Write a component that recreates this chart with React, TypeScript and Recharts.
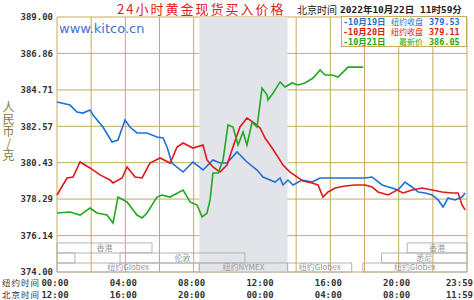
import React from 'react';
import { LineChart, Line, XAxis, YAxis, CartesianGrid, ReferenceArea } from 'recharts';

// ---- data (NY time in hours, price in 人民币/克) ----
const blueHours = [0, 0.76, 1.17, 1.52, 1.93, 2.11, 2.69, 3.22, 3.57, 3.98, 4.27, 4.68, 5.27, 5.85, 6.21, 6.44, 6.73, 7.38, 7.96, 8.55, 9.13, 9.54, 9.95, 10.54, 11.12, 11.71, 12.06, 12.47, 12.76, 13.06, 13.23, 13.52, 13.82, 14.34, 14.93, 15.4, 16.1, 17.04, 18.03, 18.44, 19.03, 19.61, 19.96, 20.37, 20.78, 21.14, 21.55, 21.96, 22.31, 22.6, 22.89, 23.3, 23.71, 23.89];
const blueValues = [384.0, 383.82, 383.41, 383.35, 383.53, 383.24, 382.53, 381.65, 381.76, 382.94, 382.53, 382.18, 382.18, 381.94, 381.88, 381.35, 380.41, 379.88, 380.47, 380.0, 380.59, 380.41, 380.41, 381.06, 380.47, 380.0, 379.59, 379.41, 379.29, 379.53, 379.12, 379.41, 379.12, 379.41, 379.29, 379.53, 379.53, 379.53, 379.53, 379.59, 379.12, 378.94, 378.82, 379.29, 379.0, 378.71, 378.65, 378.53, 378.24, 377.82, 378.35, 378.24, 378.41, 378.65];

const redHours = [0, 0.59, 0.94, 1.35, 1.93, 2.52, 3.1, 3.28, 3.81, 4.1, 4.57, 4.98, 5.44, 6.03, 6.62, 7.03, 7.38, 7.96, 8.55, 8.78, 9.13, 9.54, 9.95, 10.3, 10.71, 11.12, 11.48, 11.89, 12.18, 12.59, 12.94, 13.23, 13.64, 14.05, 14.4, 14.93, 15.28, 15.57, 15.87, 16.28, 16.86, 17.45, 18.03, 18.44, 18.79, 19.38, 19.91, 20.26, 20.78, 21.37, 21.96, 22.54, 23.13, 23.48, 23.71, 23.89];
const redValues = [378.53, 379.53, 379.59, 380.47, 380.12, 379.71, 379.41, 379.24, 379.53, 380.18, 379.59, 379.53, 380.41, 380.71, 380.41, 381.35, 381.59, 381.29, 381.47, 380.59, 380.18, 379.88, 380.29, 381.35, 382.53, 383.06, 382.82, 382.47, 381.88, 381.29, 380.76, 380.29, 379.88, 379.59, 379.35, 379.24, 379.12, 378.41, 378.71, 378.94, 379.06, 379.12, 379.12, 379.0, 378.71, 378.53, 378.82, 378.65, 378.82, 378.94, 378.82, 378.71, 378.65, 378.65, 377.94, 377.65];

const greenHours = [0, 0.76, 1.35, 1.93, 2.34, 2.93, 3.28, 3.57, 4.1, 4.68, 4.98, 5.27, 5.85, 6.15, 6.62, 7.38, 7.79, 8.2, 8.49, 8.78, 8.96, 9.13, 9.43, 9.72, 10.01, 10.3, 10.6, 10.89, 11.12, 11.42, 11.71, 12.0, 12.3, 12.35, 12.65, 13.06, 13.35, 13.76, 14.11, 14.52, 14.99, 15.4, 15.69, 16.1, 16.45, 16.74, 17.04, 17.92];
const greenValues = [377.47, 377.53, 377.35, 377.76, 377.47, 377.35, 376.88, 378.41, 378.12, 377.35, 377.18, 377.47, 378.41, 378.53, 378.41, 378.82, 378.12, 377.94, 377.24, 377.47, 378.24, 379.82, 379.82, 380.59, 382.65, 382.53, 381.47, 382.24, 381.47, 382.82, 382.53, 384.82, 384.41, 384.12, 384.53, 385.18, 384.88, 385.12, 385.0, 385.12, 385.41, 385.88, 385.59, 385.59, 385.47, 385.76, 386.05, 386.05];

const yTicks = [374.0, 376.14, 378.29, 380.43, 382.57, 384.71, 386.86, 389.0];
const xGridHours = [0, 2, 4, 6, 8, 10, 12, 14, 16, 18, 20, 22, 24];
const timeTickHours = [0, 4, 8, 12, 16, 20, 24];
const nyTimeLabels = ['00:00', '04:00', '08:00', '12:00', '16:00', '20:00', '23:59'];
const bjTimeLabels = ['12:00', '16:00', '20:00', '00:00', '04:00', '08:00', '11:59'];

const nymexStart = 8.33;
const nymexEnd = 13.5;

// trading sessions: name, start hour, end hour, row band (low, high price)
const sessionNames = ['香港', '', '伦敦', '纽约Globex', '纽约NYMEX', '纽约Globex', '纽约Globex', '悉尼', '香港'];
const sessionStarts = [0, 0, 3.69, 0, 8.33, 13.5, 17.9, 19.0, 20.5];
const sessionEnds = [5.56, 1.05, 11.0, 8.33, 13.5, 17.25, 24, 24, 24];
const sessionLows = [375.12, 374.53, 374.53, 374.0, 374.0, 374.0, 374.0, 374.53, 375.12];
const sessionHighs = [375.71, 375.12, 375.12, 374.53, 374.53, 374.53, 374.53, 375.12, 375.71];

const legendDates = ['-10月19日', '-10月20日', '-10月21日'];
const legendKinds = ['纽约收盘', '纽约收盘', '最新价'];
const legendValues = ['379.53', '379.11', '386.05'];

const BLUE = '#1f6fd8';
const RED = '#e01818';
const GREEN = '#22a822';
const GOLD = '#c9ab5c';

const toSeries = (hs: number[], vs: number[]) => hs.map((h, i) => ({ h, v: vs[i] }));
const blueData = toSeries(blueHours, blueValues);
const redData = toSeries(redHours, redValues);
const greenData = toSeries(greenHours, greenValues);

const MONO = '"DejaVu Sans Mono", "Noto Sans CJK SC", monospace';
const CJK = '"Noto Sans CJK SC", sans-serif';

const XTick = (props: any) => {
  const { x, y, payload } = props;
  const idx = timeTickHours.indexOf(payload.value);
  if (idx < 0) return null;
  const isLast = idx === timeTickHours.length - 1;
  const anchor = isLast ? 'end' : 'middle';
  const tx = isLast ? x + 6 : x - 2;
  return (
    <g>
      {idx === 0 && (
        <>
          <text x={x - 17} y={y + 14} textAnchor="end" fontSize={8.5} letterSpacing={1} fontFamily={CJK} fill="#333">纽约时间</text>
          <text x={x - 17} y={y + 26} textAnchor="end" fontSize={8.5} letterSpacing={1} fontFamily={CJK} fill="#333">北京时间</text>
        </>
      )}
      <text x={tx} y={y + 14} textAnchor={anchor} fontSize={9} fontWeight="bold" fontFamily={MONO} fill="#333">{nyTimeLabels[idx]}</text>
      <text x={tx} y={y + 26} textAnchor={anchor} fontSize={9} fontWeight="bold" fontFamily={MONO} fill="#333">{bjTimeLabels[idx]}</text>
    </g>
  );
};

export default function App() {
  return (
    <div style={{ position: 'absolute', left: 0, top: 0, width: 474, height: 300, background: '#fff', overflow: 'hidden' }}>
      <LineChart width={474} height={300} margin={{ top: 17, right: 7, left: 0, bottom: 0 }}>
        <XAxis
          type="number"
          dataKey="h"
          domain={[0, 24]}
          ticks={xGridHours}
          interval={0}
          axisLine={false}
          tickLine={false}
          tickSize={0}
          tickMargin={0}
          height={28}
          tick={<XTick />}
          allowDuplicatedCategory={false}
        />
        <YAxis
          type="number"
          domain={[374, 389]}
          ticks={yTicks}
          interval={0}
          width={57}
          axisLine={false}
          tickLine={false}
          tickSize={0}
          tickMargin={4}
          tickFormatter={(v: number) => v.toFixed(2)}
          tick={{ fontSize: 9, fontWeight: 'bold', fontFamily: MONO, fill: '#333' }}
        />
        <ReferenceArea x1={nymexStart} x2={nymexEnd} y1={374} y2={389} fill="#e3e3ea" fillOpacity={1} stroke="none" />
        <CartesianGrid stroke={GOLD} strokeWidth={1} fill="none" />
        {sessionNames.map((name, i) => (
          <ReferenceArea
            key={i}
            x1={sessionStarts[i]}
            x2={sessionEnds[i]}
            y1={sessionLows[i]}
            y2={sessionHighs[i]}
            fill="none"
            stroke="#b4b4b4"
            strokeWidth={1}
            label={{ value: name, position: 'center', fontSize: 8, fill: '#9a9a9a', fontFamily: CJK }}
          />
        ))}
        <Line data={blueData} dataKey="v" type="linear" stroke={BLUE} strokeWidth={1.6} dot={false} isAnimationActive={false} />
        <Line data={redData} dataKey="v" type="linear" stroke={RED} strokeWidth={1.6} dot={false} isAnimationActive={false} />
        <Line data={greenData} dataKey="v" type="linear" stroke={GREEN} strokeWidth={1.6} dot={false} isAnimationActive={false} />
      </LineChart>

      <div style={{ position: 'absolute', left: 117, top: 1, fontFamily: CJK, fontSize: 13, letterSpacing: 2, lineHeight: '16px', color: '#e02020', whiteSpace: 'nowrap' }}>
        24小时黄金现货买入价格
      </div>
      <div style={{ position: 'absolute', left: 297, top: 3, fontFamily: CJK, fontSize: 10, color: '#222', whiteSpace: 'nowrap', lineHeight: '13px' }}>
        北京时间
      </div>
      <div style={{ position: 'absolute', left: 340, top: 3, fontFamily: MONO, fontSize: 9.5, fontWeight: 'bold', color: '#222', whiteSpace: 'nowrap', lineHeight: '13px' }}>
        2022年10月22日 11时59分
      </div>
      <div style={{ position: 'absolute', left: 59, top: 20, fontFamily: '"DejaVu Sans", sans-serif', fontSize: 13, color: '#4471d2', whiteSpace: 'nowrap', lineHeight: '18px' }}>
        www.kitco.cn
      </div>
      <div style={{ position: 'absolute', left: 341, top: 16, width: 126, height: 31, boxSizing: 'border-box', border: `1px solid ${GOLD}`, background: '#fffff6' }}>
        {legendDates.map((d, i) => {
          const c = [BLUE, RED, GREEN][i];
          return (
            <div key={i} style={{ position: 'relative', height: 10, lineHeight: '10px', fontSize: 8.5, fontWeight: 'bold', fontFamily: MONO, color: c, whiteSpace: 'nowrap' }}>
              <span style={{ position: 'absolute', left: 1 }}>{d}</span>
              <span style={{ position: 'absolute', right: 43, fontFamily: CJK, fontWeight: 'normal', fontSize: 8 }}>{legendKinds[i]}</span>
              <span style={{ position: 'absolute', left: 87 }}>{legendValues[i]}</span>
            </div>
          );
        })}
      </div>
      <div style={{ position: 'absolute', left: 2, top: 101, fontFamily: CJK, fontSize: 12, color: '#8a7a3a', lineHeight: '12px', writingMode: 'vertical-rl', textOrientation: 'upright', whiteSpace: 'nowrap' }}>
        人民币/克
      </div>
    </div>
  );
}
